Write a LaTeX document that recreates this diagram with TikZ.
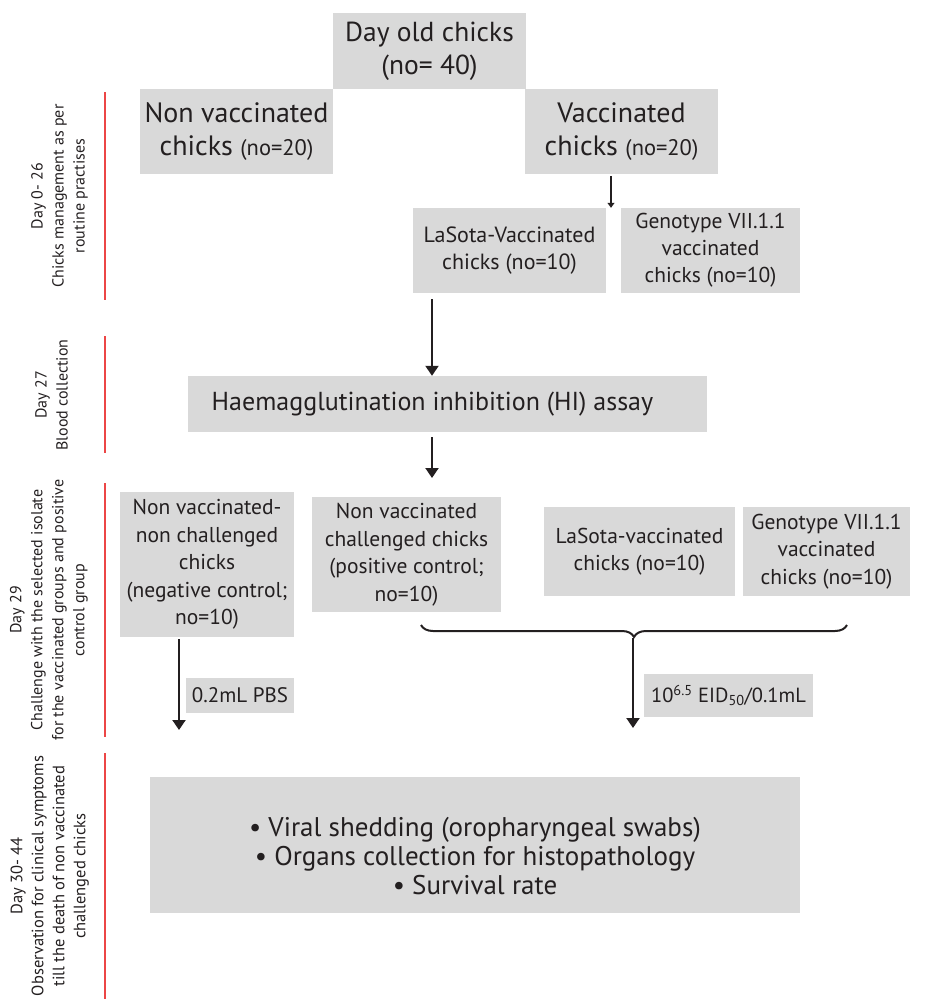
\documentclass[tikz,border=0pt]{standalone}
\usepackage{fontspec}
\setmainfont{PT Sans}
\usetikzlibrary{arrows.meta,decorations.pathreplacing}
\definecolor{boxgray}{RGB}{217,217,217}
\definecolor{ink}{RGB}{35,31,32}
\definecolor{dayred}{RGB}{236,70,70}

\tikzset{
  gbox/.style={fill=boxgray, inner sep=0pt, align=center, text=ink},
  sidelabel/.style={rotate=90, anchor=south, align=center, inner sep=0pt, text=ink,
    font=\fontsize{16}{21}\selectfont},
  dayline/.style={draw=dayred, line width=1.3pt},
  smallarr/.style={draw=ink, line width=1.6pt, -{Triangle[width=7pt,length=5pt]}},
  bigarr/.style={draw=ink, line width=2pt, -{Triangle[width=13pt,length=10pt]}},
}

\begin{document}
\begin{tikzpicture}[x=1pt,y=-1pt]
\useasboundingbox (0,0) rectangle (925,999);

%Side: day lines
\draw[dayline] (105,92) -- (105,300);
\draw[dayline] (105,336) -- (105,453);
\draw[dayline] (105,483) -- (105,737);
\draw[dayline] (105,753) -- (105,999);

% Text Node
\node[sidelabel] (day1) at (88,196) {Day 0- 26\\Chicks management as per\\routine practises};
% Text Node
\node[sidelabel] (day2) at (68,395) {Day 27\\Blood collection};
% Text Node
\node[sidelabel] (day3) at (88,610) {Day 29\\Challenge with the selected isolate\\for the vaccinated groups and positive\\control group};
% Text Node
\node[sidelabel, font=\fontsize{16.5}{21}\selectfont] (day4) at (89,876) {Day 30- 44\\Observation for clinical symptoms\\till the death of non vaccinated\\challenged chicks};

%Row: start
\node[gbox, minimum width=193, minimum height=76, font=\fontsize{27.5}{33}\selectfont] (start) at (429.5,51) {Day old chicks\\(no= 40)};
\node[gbox, minimum width=193, minimum height=85, font=\fontsize{28}{33}\selectfont] (nonvac) at (236.5,131.5) {Non vaccinated\\chicks {\fontsize{22.5}{22}\selectfont(no=20)}};
\node[gbox, minimum width=193, minimum height=85, font=\fontsize{28}{33}\selectfont] (vac) at (621.5,131.5) {Vaccinated\\chicks {\fontsize{22.5}{22}\selectfont(no=20)}};

%Row: vaccine groups
\node[gbox, minimum width=193, minimum height=85, font=\fontsize{22}{27}\selectfont] (lasota) at (509.5,250.5) {LaSota-Vaccinated\\chicks (no=10)};
\node[gbox, minimum width=179, minimum height=85, font=\fontsize{21.5}{27}\selectfont] (geno) at (710.5,250.5) {Genotype VII.1.1\\vaccinated\\chicks (no=10)};

%Row: HI assay
\node[gbox, minimum width=519, minimum height=56, font=\fontsize{26}{32}\selectfont] (hi) at (447.5,404) {Haemagglutination inhibition (HI) assay\hspace{30pt}};

%Row: challenge groups
\node[gbox, minimum width=174, minimum height=145, font=\fontsize{21.5}{27.5}\selectfont] (negctrl) at (207,564.5) {Non vaccinated-\\non challenged\\chicks\\(negative control;\\no=10)};
\node[gbox, minimum width=189, minimum height=115, font=\fontsize{21.5}{27.5}\selectfont] (posctrl) at (406.5,554.5) {Non vaccinated\\challenged chicks\\(positive control;\\no=10)};
\node[gbox, minimum width=191, minimum height=89, font=\fontsize{21.5}{27.5}\selectfont] (lasotab) at (639.5,551.5) {LaSota-vaccinated\\chicks (no=10)};
\node[gbox, minimum width=167, minimum height=89, font=\fontsize{21.5}{27.5}\selectfont] (genob) at (826.5,551.5) {Genotype VII.1.1\\vaccinated\\chicks (no=10)};

%Labels: doses
\node[gbox, minimum width=108, minimum height=35, font=\fontsize{21}{24}\selectfont] (pbs) at (240,695.5) {0.2mL PBS};
\node[gbox, minimum width=169, minimum height=43, font=\fontsize{20.5}{24}\selectfont] (eid) at (728.5,695.5) {10\textsuperscript{6.5} EID\textsubscript{50}/0.1mL};

%Row: outcome
\node[gbox, minimum width=650, minimum height=136] (outcome) at (475,845) {};
\node[align=center, text=ink, inner sep=0pt, font=\fontsize{27}{29}\selectfont] (outcometext) at ([yshift=-11pt]outcome.center) {• Viral shedding (oropharyngeal swabs)\\• Organs collection for histopathology\\• Survival rate};

%Coordinates for arrows
\coordinate (vacout) at (611,176);
\coordinate (hiin) at (432,299);
\coordinate (hiout) at (432,437);
\coordinate (groups) at (432,478);
\coordinate (pbsend) at (179,730);
\coordinate (braceL) at (421,625);
\coordinate (braceR) at (847,625);
\coordinate (bracetip) at (633,638);
\coordinate (eidend) at (633,728);

%Arrows
\draw[smallarr] (vacout) -- (vacout |- lasota.north);
\draw[bigarr] (hiin) -- (hiin |- hi.north);
\draw[bigarr] (hiout) -- (groups);
\draw[bigarr] ([yshift=-2pt]negctrl.south -| pbsend) -- (pbsend);
\draw[draw=ink, line width=2pt, decorate, decoration={brace, mirror, amplitude=12pt}] (braceL) -- (braceR);
\draw[bigarr] (bracetip) -- (eidend);
\end{tikzpicture}
\end{document}
